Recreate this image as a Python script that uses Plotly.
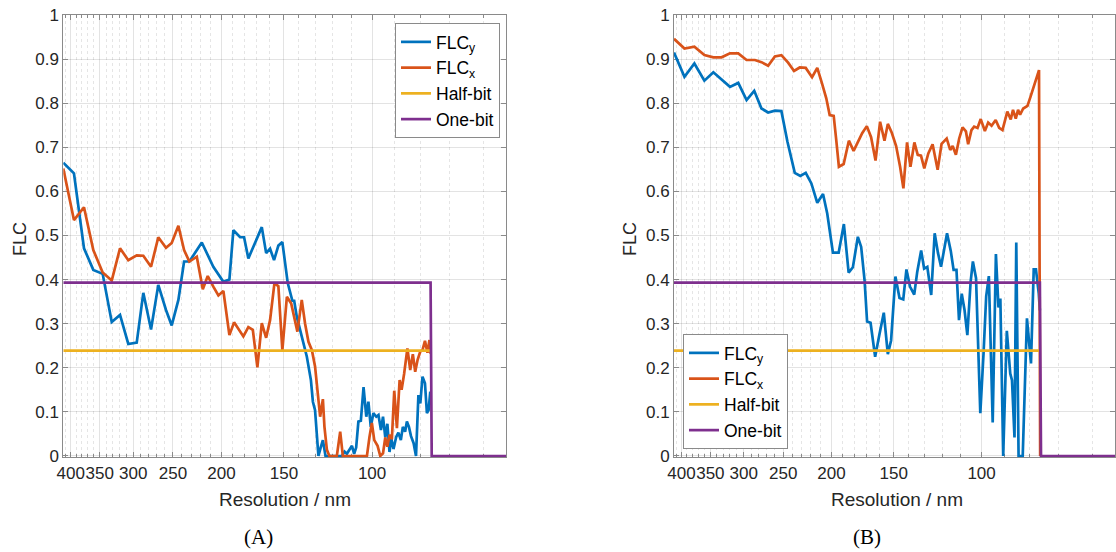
import math
import plotly.graph_objects as go

# ---------------- data (resolution in nm, FLC value) ----------------
# Panel A
a_flcy_res = [414.0, 394.2, 376.4, 360.6, 345.4, 331.3, 318.9, 307.0, 295.3, 286.5, 276.5, 267.4, 258.1, 251.4,
              243.8, 237.5, 231.8, 218.9, 207.6, 198.2, 192.8, 189.3, 183.5, 180.2, 176.7, 166.1, 162.8, 159.9,
              157.0, 153.9, 151.1, 147.4, 144.3, 143.1, 141.4, 138.2, 135.0, 132.5, 131.3, 130.0, 128.0, 126.6,
              125.4, 123.9, 121.3, 117.6, 114.9, 113.5, 112.3, 111.0, 109.7, 108.6, 107.6, 106.5, 105.3, 104.0,
              102.7, 101.7, 100.6, 99.4, 98.1, 97.1, 96.0, 95.1, 94.1, 93.2, 92.3, 91.5, 90.6, 89.5, 88.6, 87.6,
              86.8, 85.9, 85.2, 84.4, 83.6, 82.6, 81.7, 80.8, 80.1, 79.3, 78.4, 77.7, 77.1, 76.5]
a_flcy_val = [0.665, 0.641, 0.471, 0.422, 0.413, 0.304, 0.320, 0.254, 0.257, 0.370, 0.287, 0.388, 0.331, 0.296,
              0.354, 0.441, 0.441, 0.484, 0.429, 0.395, 0.400, 0.512, 0.496, 0.496, 0.448, 0.519, 0.460, 0.470,
              0.444, 0.477, 0.485, 0.392, 0.352, 0.352, 0.316, 0.271, 0.225, 0.172, 0.123, 0.104, 0.0, 0.020,
              0.036, 0.0, 0.0, 0.0, 0.0, 0.010, 0.005, 0.014, 0.023, 0.005, 0.019, 0.078, 0.080, 0.156,
              0.089, 0.123, 0.066, 0.097, 0.089, 0.093, 0.059, 0.089, 0.042, 0.073, 0.009, 0.039, 0.016, 0.043, 0.053, 0.036,
              0.066, 0.055, 0.078, 0.066, 0.045, 0.029, 0.0, 0.138, 0.119, 0.180, 0.165, 0.097, 0.104, 0.146]

a_flcx_res = [414.0, 394.2, 376.4, 360.6, 345.4, 331.3, 318.9, 307.0, 295.3, 286.5, 276.5, 267.4, 258.1, 251.4,
              243.8, 237.5, 231.8, 224.0, 217.9, 213.0, 207.6, 202.8, 198.2, 192.8, 188.7, 184.4, 180.8, 176.7,
              173.1, 169.5, 166.1, 162.8, 159.9, 156.7, 153.9, 151.1, 148.0, 145.1, 141.0, 138.2, 136.1, 134.0,
              131.9, 130.0, 128.6, 127.0, 125.4, 124.5, 123.1, 121.7, 117.6, 115.8, 114.4, 102.4, 101.2, 100.1,
              99.0, 97.5, 96.3, 95.1, 94.1, 93.2, 92.3, 91.3, 90.3, 89.2, 88.1, 87.3, 86.3, 85.0, 83.9, 82.9,
              82.0, 81.1, 80.1, 79.3, 78.4, 77.5, 76.8, 76.4]
a_flcx_val = [0.652, 0.535, 0.564, 0.467, 0.416, 0.398, 0.471, 0.444, 0.455, 0.454, 0.429, 0.496, 0.472, 0.483,
              0.522, 0.467, 0.441, 0.452, 0.378, 0.408, 0.384, 0.364, 0.374, 0.274, 0.303, 0.286, 0.271, 0.292,
              0.286, 0.201, 0.301, 0.268, 0.308, 0.392, 0.385, 0.240, 0.361, 0.346, 0.282, 0.354, 0.300, 0.259,
              0.240, 0.203, 0.150, 0.089, 0.129, 0.066, 0.014, 0.0, 0.0, 0.055, 0.0, 0.0, 0.043, 0.075,
              0.036, 0.023, 0.0, 0.006, 0.042, 0.021, 0.048, 0.038, 0.148, 0.063, 0.172, 0.150, 0.186, 0.244, 0.195, 0.231,
              0.191, 0.218, 0.237, 0.240, 0.261, 0.234, 0.263, 0.232]

# Panel B
b_flcy_res = [414.0, 394.5, 376.8, 359.8, 345.2, 332.3, 319.7, 307.7, 296.1, 285.8, 276.4, 268.0, 259.8, 252.1,
              245.2, 237.0, 231.0, 225.3, 219.5, 213.6, 208.0, 204.0, 198.7, 193.5, 188.9, 184.8, 181.2, 177.1,
              174.4, 171.7, 169.7, 167.0, 163.5, 160.2, 157.1, 154.2, 151.9, 148.9, 146.1, 143.6, 141.5, 139.2,
              136.5, 134.6, 132.2, 130.4, 128.5, 126.2, 124.2, 122.3, 120.6, 117.3, 115.3, 113.8, 112.3, 111.0,
              109.6, 108.2, 106.8, 105.2, 104.1, 102.6, 100.6, 99.1, 97.9, 96.7, 95.0, 93.6, 92.5, 91.7, 90.5,
              89.0, 87.6, 86.9, 85.9, 85.2, 84.3, 82.7, 81.1, 79.6, 78.6, 77.8, 76.8, 76.4]
b_flcy_val = [0.915, 0.860, 0.890, 0.851, 0.870, 0.854, 0.837, 0.846, 0.807, 0.828, 0.788, 0.779, 0.783, 0.782,
              0.713, 0.642, 0.635, 0.642, 0.618, 0.574, 0.594, 0.550, 0.461, 0.461, 0.526, 0.416, 0.428, 0.497,
              0.474, 0.399, 0.305, 0.302, 0.225, 0.277, 0.325, 0.231, 0.262, 0.407, 0.358, 0.355, 0.423, 0.384,
              0.366, 0.418, 0.466, 0.425, 0.429, 0.365, 0.505, 0.460, 0.429, 0.505, 0.465, 0.422, 0.422, 0.308,
              0.368, 0.331, 0.274, 0.395, 0.441, 0.403, 0.097, 0.233, 0.362, 0.408, 0.076, 0.458, 0.337, 0.357, 0.0,
              0.284, 0.187, 0.172, 0.042, 0.484, 0.0, 0.0, 0.312, 0.210, 0.423, 0.423, 0.369, 0.330]

b_flcx_res = [414.0, 394.5, 376.8, 359.8, 345.2, 332.3, 319.7, 307.7, 296.1, 284.9, 276.4, 268.0, 259.8, 252.1,
              244.4, 237.8, 231.6, 225.3, 218.8, 213.6, 209.0, 204.9, 201.7, 198.0, 195.7, 193.3, 189.1, 184.6,
              180.6, 177.1, 173.6, 169.9, 166.6, 163.2, 159.8, 156.6, 154.2, 151.4, 148.4, 145.7, 143.5, 141.1,
              138.9, 136.4, 134.3, 132.3, 130.3, 127.9, 125.4, 122.5, 120.3, 117.5, 115.6, 114.3, 112.6, 110.9,
              109.2, 107.5, 106.4, 104.8, 103.5, 101.9, 100.4, 98.5, 97.0, 95.5, 93.7, 92.2, 90.8, 88.8, 87.4,
              86.5, 85.4, 84.5, 83.7, 82.5, 80.9, 79.7, 78.1, 76.7, 76.3]
b_flcx_val = [0.946, 0.924, 0.928, 0.909, 0.904, 0.904, 0.913, 0.913, 0.898, 0.898, 0.893, 0.885, 0.906, 0.909,
              0.892, 0.873, 0.881, 0.880, 0.859, 0.880, 0.845, 0.811, 0.773, 0.771, 0.717, 0.656, 0.662, 0.715,
              0.692, 0.711, 0.732, 0.748, 0.723, 0.670, 0.758, 0.715, 0.753, 0.733, 0.703, 0.656, 0.607, 0.711,
              0.656, 0.711, 0.683, 0.681, 0.652, 0.686, 0.707, 0.649, 0.708, 0.720, 0.694, 0.703, 0.683, 0.720,
              0.745, 0.736, 0.707, 0.739, 0.747, 0.744, 0.764, 0.737, 0.756, 0.749, 0.762, 0.744, 0.739, 0.781, 0.763,
              0.785, 0.765, 0.785, 0.774, 0.788, 0.794, 0.816, 0.849, 0.875, 0.0]

# thresholds
half_bit_level = 0.239
one_bit_level = 0.393
res_start = 414.0          # left end of the curves
res_cut_top = 76.4         # last sample before the cutoff
res_cut_bottom = 76.0      # first sample after the cutoff
res_end = 54.0             # right end of the axis

# axis ticks
major_ticks = [400, 350, 300, 250, 200, 150, 100]
major_labels = ["400", "350", "300", "250", "200", "150", "100"]
minor_ticks = [410, 390, 380, 370, 360, 340, 330, 320, 310, 290, 280, 270, 260, 240, 230, 220, 210,
               190, 180, 170, 160, 140, 130, 120, 110, 90, 80, 70, 60]
y_ticks = [0, 0.1, 0.2, 0.3, 0.4, 0.5, 0.6, 0.7, 0.8, 0.9, 1]

# ---------------- styling ----------------
W, H = 1116, 552
BLUE, ORANGE, YELLOW, PURPLE = "#0072BD", "#D95319", "#EDB120", "#7E2F8E"
FONT = "Liberation Sans, Arial, Helvetica, sans-serif"
SERIF = "Liberation Serif, Times New Roman, serif"
LW = 2.7
AX_COL = "#8a8a8a"
GRID = "rgba(0,0,0,0.11)"
TXT = "#262626"

fig = go.Figure()

def add_panel(xref, yref, legend, y_res, y_val, x_res, x_val):
    common = dict(mode="lines", xaxis=xref, yaxis=yref, legend=legend)
    fig.add_trace(go.Scatter(x=y_res, y=y_val, name="FLC<sub>y</sub>",
                             line=dict(color=BLUE, width=LW), **common))
    fig.add_trace(go.Scatter(x=x_res, y=x_val, name="FLC<sub>x</sub>",
                             line=dict(color=ORANGE, width=LW), **common))
    fig.add_trace(go.Scatter(x=[res_start, res_cut_top], y=[half_bit_level, half_bit_level],
                             name="Half-bit", line=dict(color=YELLOW, width=LW), **common))
    fig.add_trace(go.Scatter(x=[res_start, res_cut_top, res_cut_bottom, res_end],
                             y=[one_bit_level, one_bit_level, 0, 0],
                             name="One-bit", line=dict(color=PURPLE, width=LW), **common))

add_panel("x", "y", "legend", a_flcy_res, a_flcy_val, a_flcx_res, a_flcx_val)
add_panel("x2", "y2", "legend2", b_flcy_res, b_flcy_val, b_flcx_res, b_flcx_val)

xr = [math.log10(res_start), math.log10(res_end)]
ydom = [(H - 457.3) / H, (H - 15) / H]

xcommon = dict(type="log", range=xr, autorange=False, automargin=False, tickmode="array",
               tickvals=major_ticks, ticktext=major_labels, tickangle=0, ticks="inside", ticklen=5,
               tickwidth=1, tickcolor=AX_COL, showline=True, linecolor=AX_COL, linewidth=1, mirror="ticks",
               showgrid=True, gridcolor=GRID, gridwidth=1, zeroline=False,
               tickfont=dict(family=FONT, size=17, color=TXT), layer="below traces",
               minor=dict(tickmode="array", tickvals=minor_ticks, ticks="inside", ticklen=3, tickcolor=AX_COL,
                          showgrid=True, gridcolor="rgba(0,0,0,0.10)", griddash="dot", gridwidth=1))
ycommon = dict(range=[-0.003, 1.0], autorange=False, automargin=False, tickmode="array", tickvals=y_ticks,
               ticktext=[("%g" % v) for v in y_ticks], ticks="inside", ticklen=5, tickcolor=AX_COL,
               showline=True, linecolor=AX_COL, linewidth=1, mirror="ticks", showgrid=True, gridcolor=GRID,
               zeroline=False, tickfont=dict(family=FONT, size=17, color=TXT), layer="below traces")

legcommon = dict(xanchor="left", yanchor="top", bgcolor="white", bordercolor=AX_COL, borderwidth=1,
                 font=dict(family=FONT, size=17.5, color="#000"), tracegroupgap=0, itemwidth=30)

fig.update_layout(
    width=W, height=H, margin=dict(l=0, r=0, t=0, b=0, autoexpand=False),
    paper_bgcolor="white", plot_bgcolor="white",
    xaxis=dict(domain=[63.3 / W, 506 / W], anchor="y", **xcommon),
    yaxis=dict(domain=ydom, anchor="x", **ycommon),
    xaxis2=dict(domain=[674 / W, 1115 / W], anchor="y2", **xcommon),
    yaxis2=dict(domain=ydom, anchor="x2", **ycommon),
    legend=dict(x=395 / W, y=1 - 23 / H, **legcommon),
    legend2=dict(x=683 / W, y=1 - 334 / H, **legcommon),
    showlegend=True,
)

ann = [
    dict(text="FLC", x=20 / W, y=1 - 239 / H, textangle=-90, font=dict(family=FONT, size=18, color=TXT)),
    dict(text="FLC", x=630 / W, y=1 - 239 / H, textangle=-90, font=dict(family=FONT, size=18, color=TXT)),
    dict(text="Resolution / nm", x=285 / W, y=1 - 499 / H, font=dict(family=FONT, size=19, color=TXT)),
    dict(text="Resolution / nm", x=897 / W, y=1 - 499 / H, font=dict(family=FONT, size=19, color=TXT)),
    dict(text="(A)", x=258 / W, y=1 - 537 / H, font=dict(family=SERIF, size=21, color="#000")),
    dict(text="(B)", x=867 / W, y=1 - 537 / H, font=dict(family=SERIF, size=21, color="#000")),
]
for a in ann:
    fig.add_annotation(xref="paper", yref="paper", showarrow=False, xanchor="center", yanchor="middle", **a)

fig.write_html("out.html", config={"displayModeBar": False},
               post_script="document.body.style.margin='0';document.body.style.overflow='hidden';")
